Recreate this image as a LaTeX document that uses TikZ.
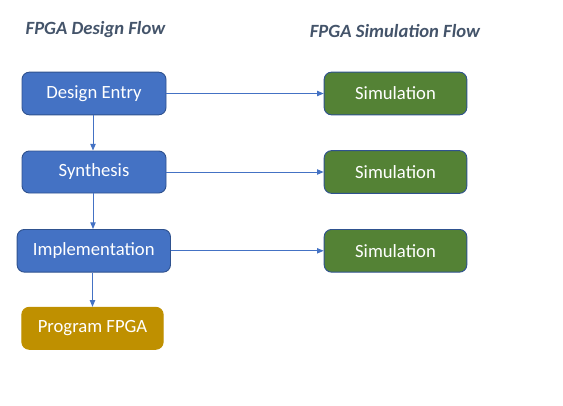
\documentclass[tikz,border=0pt]{standalone}
\usepackage{fontspec}
\setmainfont{Carlito}
\usetikzlibrary{arrows.meta}
\definecolor{boxblue}{HTML}{4472C4}
\definecolor{boxline}{HTML}{2F528F}
\definecolor{boxgreen}{HTML}{548235}
\definecolor{boxgold}{HTML}{BF9000}
\definecolor{titlecol}{HTML}{44546A}
\begin{document}
\begin{tikzpicture}[x=0.75pt,y=-0.75pt,
  flowbox/.style={rectangle, rounded corners=5.5pt, inner sep=0pt, text=white,
    font=\fontsize{14}{16}\selectfont, line width=0.7pt},
  bluebox/.style={flowbox, fill=boxblue, draw=boxline},
  greenbox/.style={flowbox, fill=boxgreen, draw=boxline, minimum width=107pt, minimum height=32pt},
  goldbox/.style={flowbox, fill=boxgold, draw=boxgold},
  heading/.style={text=titlecol, font=\fontsize{14}{16}\selectfont\bfseries\itshape, inner sep=0pt},
  link/.style={draw=boxblue, line width=0.75pt, -{Triangle[length=5pt,width=4pt]}}]
\useasboundingbox (0,0) rectangle (563,406);

\node[heading] (t1) at (95.5,30) {FPGA Design Flow};
\node[heading] (t2) at (395,31) {FPGA Simulation Flow};

\node[bluebox, minimum width=108pt, minimum height=32pt] (de) at (94,93.5) {Design Entry};
\node[bluebox, minimum width=108pt, minimum height=31.5pt] (syn) at (94,172) {Synthesis};
\node[bluebox, minimum width=115pt, minimum height=32pt] (imp) at (93.8,250.8) {Implementation};
\node[goldbox, minimum width=106pt, minimum height=31.5pt] (prog) at (92.5,328.3) {Program FPGA};

\node[greenbox] (s1) at (395.5,93.5) {Simulation};
\node[greenbox] (s2) at (395.5,172) {Simulation};
\node[greenbox] (s3) at (395.5,250.8) {Simulation};

\draw[link] (de) -- (s1);
\draw[link] (syn) -- (s2);
\draw[link] (imp) -- (s3);
\draw[link] (de.south -| 93,0) -- (syn.north -| 93,0);
\draw[link] (syn.south -| 93,0) -- (imp.north -| 93,0);
\draw[link] (imp.south -| prog) -- (prog.north);
\end{tikzpicture}
\end{document}
